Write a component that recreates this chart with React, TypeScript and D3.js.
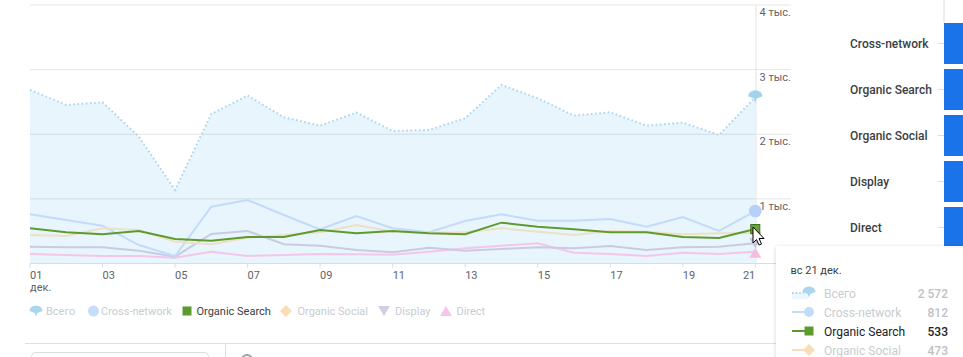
import React from 'react';
import * as d3 from 'd3';

const days = [1, 2, 3, 4, 5, 6, 7, 8, 9, 10, 11, 12, 13, 14, 15, 16, 17, 18, 19, 20, 21];
const tickDays = [1, 3, 5, 7, 9, 11, 13, 15, 17, 19, 21];
const tickLabels = ['01', '03', '05', '07', '09', '11', '13', '15', '17', '19', '21'];
const yTicks = [1000, 2000, 3000, 4000];
const yTickLabels = ['1 тыс.', '2 тыс.', '3 тыс.', '4 тыс.'];

const total = [2686, 2454, 2495, 1963, 1138, 2314, 2598, 2263, 2133, 2334, 2051, 2066, 2248, 2763, 2557, 2288, 2340, 2133, 2180, 1989, 2572];
const crossNetwork = [761, 673, 585, 286, 116, 879, 983, 751, 529, 735, 545, 483, 658, 761, 663, 663, 689, 570, 720, 503, 812];
const organicSearch = [545, 483, 452, 503, 379, 353, 410, 410, 519, 467, 503, 467, 452, 632, 570, 529, 483, 483, 410, 395, 533];
const organicSocial = [441, 426, 545, 519, 338, 297, 400, 441, 483, 596, 492, 477, 483, 545, 492, 441, 503, 492, 452, 467, 473];
const display = [260, 251, 251, 198, 105, 457, 503, 297, 276, 209, 173, 245, 198, 224, 251, 235, 271, 209, 251, 260, 313];
const direct = [147, 132, 116, 116, 90, 183, 116, 132, 147, 142, 137, 183, 235, 276, 313, 167, 147, 116, 167, 147, 183];

const channelNames = ['Cross-network', 'Organic Search', 'Organic Social', 'Display', 'Direct'];
const tooltipNames = ['Всего', 'Cross-network', 'Organic Search', 'Organic Social'];
const tooltipValues = ['2 572', '812', '533', '473'];

const FONT = 'Roboto, "Noto Sans", sans-serif';

const drop = 'M-6.5,0 A6.5,5.5 0 0 1 6.5,0 L1.2,2 L0,6 L-1.2,2 Z';
const diamond = 'M0,-6 L6,0 L0,6 L-6,0 Z';
const triDown = 'M-6,-5 L6,-5 L0,5 Z';
const triUp = 'M-6,5 L6,5 L0,-5 Z';

export default function App() {
  const x = d3.scaleLinear().domain([1, 21]).range([30, 755.3]);
  const y = d3.scaleLinear().domain([0, 4000]).range([263.5, 5]);
  const line = (vals: number[]) =>
    d3.line<number>().x((_, i) => x(days[i])).y((v) => y(v))(vals) || '';
  const area = d3
    .area<number>()
    .x((_, i) => x(days[i]))
    .y0(y(0))
    .y1((v) => y(v))(total) || '';

  const band = d3.scaleBand<string>().domain(channelNames).range([23, 248]).paddingInner(0.109).paddingOuter(0);

  const last = days.length - 1;
  const xl = x(days[last]);

  const legend = [
    { name: 'Всего', cx: 36, tx: 46, shape: drop, color: '#a9d6ee', active: false },
    { name: 'Cross-network', cx: 93.5, tx: 101, shape: 'circle', color: '#c6dcfb', active: false },
    { name: 'Organic Search', cx: 187, tx: 196.5, shape: 'square', color: '#5f9a2f', active: true },
    { name: 'Organic Social', cx: 286, tx: 297.5, shape: diamond, color: '#fbdcb8', active: false },
    { name: 'Display', cx: 384, tx: 395, shape: triDown, color: '#cfd0e6', active: false },
    { name: 'Direct', cx: 446, tx: 456.5, shape: triUp, color: '#f7c5ea', active: false },
  ];

  const renderShape = (shape: string, color: string, cx: number, cy: number, s = 1, stroke?: string) => {
    if (shape === 'circle') return <circle cx={cx} cy={cy} r={5.5 * s} fill={color} />;
    if (shape === 'square')
      return (
        <rect x={cx - 4.5 * s} y={cy - 4.5 * s} width={9 * s} height={9 * s} fill={color} stroke={stroke || 'none'} strokeWidth={1} />
      );
    return <path d={shape} transform={`translate(${cx},${cy}) scale(${s})`} fill={color} />;
  };

  return (
    <div style={{ position: 'fixed', left: 0, top: 0, width: 963, height: 357, background: '#fff' }}>
      <svg width={963} height={357} style={{ display: 'block', fontFamily: FONT }}>
        <defs>
          <filter id="shadow" x="-10%" y="-10%" width="120%" height="130%">
            <feDropShadow dx="0" dy="1" stdDeviation="2" floodColor="#000" floodOpacity="0.18" />
          </filter>
        </defs>
        {/* area */}
        <path d={area} fill="#e8f5fd" />
        {/* gridlines */}
        {yTicks.map((t) => (
          <line key={t} x1={30} x2={791} y1={y(t)} y2={y(t)} stroke="rgba(0,0,0,0.1)" strokeWidth={1} />
        ))}
        <line x1={756} x2={756} y1={5} y2={263.5} stroke="#e3e3e3" />
        <line x1={30} x2={776} y1={y(0)} y2={y(0)} stroke="#dadce0" />
        {tickDays.map((d) => (
          <line key={d} x1={x(d)} x2={x(d)} y1={y(0)} y2={y(0) + 4} stroke="#dadce0" />
        ))}
        {/* axis labels */}
        {yTicks.map((t, i) => (
          <text key={t} x={759.5} y={y(t) + 11} fontSize={11} fill="#5f6368">
            {yTickLabels[i]}
          </text>
        ))}
        {tickDays.map((d, i) => (
          <text
            key={d}
            x={x(d)}
            y={279}
            fontSize={11}
            fill="#5f6368"
            textAnchor={i === tickDays.length - 1 ? 'end' : 'start'}
          >
            {tickLabels[i]}
          </text>
        ))}
        <text x={30} y={291} fontSize={11} fill="#5f6368">
          дек.
        </text>

        {/* series */}
        <path d={line(direct)} fill="none" stroke="#f4c6ea" strokeWidth={2} />
        <path d={line(display)} fill="none" stroke="#c9cbe3" strokeWidth={2} />
        <path d={line(crossNetwork)} fill="none" stroke="#c3daf9" strokeWidth={2} />
        <path d={line(organicSocial)} fill="none" stroke="#eee0c4" strokeWidth={2} />
        <path d={line(organicSearch)} fill="none" stroke="#5f9a2f" strokeWidth={2} />
        <path d={line(total)} fill="none" stroke="#a9d6ee" strokeWidth={2} strokeDasharray="1.6,2.6" />

        {/* end markers */}
        {renderShape(triUp, '#f4bde4', xl, y(direct[last]) + 1)}
        {renderShape(triDown, '#c5c7e2', xl, y(display[last]))}
        {renderShape('circle', '#b5d0f9', xl, y(crossNetwork[last]), 1.15)}
        {renderShape(diamond, '#f2dcb6', xl, y(organicSocial[last]))}
        {renderShape('square', '#6aa336', xl, y(organicSearch[last]), 1, '#3d6e1a')}
        {renderShape(drop, '#a2d2ec', xl, y(total[last]) - 1, 1.1)}

        {/* cursor */}
        <path
          d="M753,227 L753,243 L756.5,239.5 L759,245 L761.5,244 L759,238.5 L764,238.5 Z"
          fill="#fff"
          stroke="#000"
          strokeWidth={1}
          strokeLinejoin="round"
        />

        {/* legend */}
        {legend.map((l) => (
          <g key={l.name}>
            {renderShape(l.shape, l.color, l.cx, 311)}
            <text x={l.tx} y={315} fontSize={11} fill={l.active ? '#3c4043' : '#c9ccd0'}>
              {l.name}
            </text>
          </g>
        ))}

        {/* right panel */}
        <line x1={944} x2={944} y1={0} y2={23} stroke="#dadce0" />
        {channelNames.map((c) => {
          const yc = (band(c) || 0) + band.bandwidth() / 2;
          return (
            <g key={c}>
              <rect x={944} y={band(c)} width={30} height={band.bandwidth()} fill="#1a73e8" />
              <line x1={938} x2={944} y1={yc} y2={yc} stroke="#dadce0" />
              <text x={850} y={yc + 4.3} fontSize={12} fontWeight={500} fill="#3c4043">
                {c}
              </text>
            </g>
          );
        })}

        {/* bottom UI */}
        <line x1={25} x2={963} y1={343.5} y2={343.5} stroke="#e0e0e0" />
        <rect x={31.5} y={352.5} width={177} height={20} rx={4} fill="none" stroke="#dadce0" />
        <line x1={225.5} x2={225.5} y1={343.5} y2={357} stroke="#e0e0e0" />
        <circle cx={247} cy={360} r={5} fill="none" stroke="#9aa0a6" strokeWidth={2} />

        {/* faint zero labels behind tooltip */}
        <text x={785} y={270} fontSize={11} fill="#f0f0f0">0</text>
        <text x={940} y={270} fontSize={11} fill="#f0f0f0">0</text>

        {/* tooltip */}
        <rect x={776} y={246} width={200} height={130} fill="#fff" filter="url(#shadow)" opacity={0.96} />
        <text x={790.5} y={274} fontSize={11} fill="#3c4043">
          вс 21 дек.
        </text>
        {tooltipNames.map((n, i) => {
          const cy = 293 + i * 19;
          const active = n === 'Organic Search';
          const col = ['#a9d6ee', '#c3daf9', '#5f9a2f', '#fbdcb8'][i];
          return (
            <g key={n}>
              {i === 0 ? (
                <>
                  <rect x={792} y={cy} width={16} height={6} fill="#eef7fd" />
                  <line x1={792} x2={804} y1={cy} y2={cy} stroke={col} strokeWidth={2} strokeDasharray="1.6,2" />
                  {renderShape(drop, col, 809, cy - 1, 1)}
                </>
              ) : (
                <>
                  <line x1={792} x2={805} y1={cy} y2={cy} stroke={col} strokeWidth={2} />
                  {renderShape(['', 'circle', 'square', diamond][i], col, 809, cy, i === 1 ? 0.9 : 1)}
                </>
              )}
              <text x={824} y={cy + 4.5} fontSize={12} fill={active ? '#202124' : '#c9ccd0'}>
                {n}
              </text>
              <text x={948} y={cy + 4.5} fontSize={12} fontWeight={500} textAnchor="end" fill={active ? '#202124' : '#bdc1c6'}>
                {tooltipValues[i]}
              </text>
            </g>
          );
        })}
      </svg>
    </div>
  );
}
